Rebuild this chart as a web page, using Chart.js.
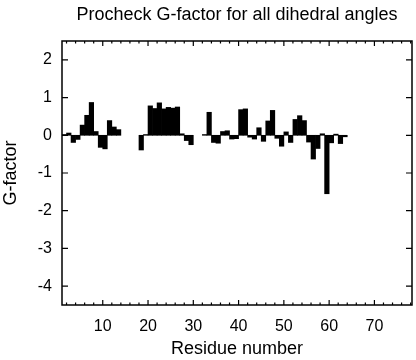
<!DOCTYPE html>
<html><head><meta charset="utf-8">
<script src="https://cdn.jsdelivr.net/npm/chart.js@4"></script>
<style>html,body{margin:0;padding:0;background:#fff}</style>
</head><body>
<canvas id="c" width="416" height="360"></canvas>
<script>
const TITLE = 'Procheck G-factor for all dihedral angles';
const X_TITLE = 'Residue number';
const Y_TITLE = 'G-factor';
const residues = [1,2,3,4,5,6,7,8,9,10,11,12,13,
  18,19,20,21,22,23,24,25,26,27,28,29,
  32,33,34,35,36,37,38,39,40,41,42,43,44,45,46,47,48,49,50,
  51,52,53,54,55,56,57,58,59,60,61,62,63];
const gfactor = [0.02,0.06,-0.19,-0.11,0.27,0.53,0.87,0.10,-0.32,-0.36,0.39,0.22,0.15,
  -0.39,0.02,0.78,0.71,0.86,0.70,0.74,0.72,0.75,0.04,-0.14,-0.25,
  0.02,0.61,-0.19,-0.21,0.10,0.12,-0.10,-0.09,0.68,0.70,-0.05,-0.10,0.20,-0.16,0.38,0.66,-0.08,-0.29,0.09,
  -0.19,0.42,0.52,0.39,-0.18,-0.63,-0.35,0.04,-1.55,-0.20,0.03,-0.22,-0.04];
const xTicks = [10,20,30,40,50,60,70];
const yTicks = [-4,-3,-2,-1,0,1,2];
const X_MIN = 1, X_MAX = 78.3, Y_MIN = -4.5, Y_MAX = 2.5;
const FONT = "'Liberation Sans', Arial, sans-serif";

const bars = residues.map((r, i) => ({x: r + 0.5, y: gfactor[i]}));

const frame = {id: 'frame', afterDraw(chart) {
  const {ctx, chartArea: a, scales: {x, y}} = chart;
  ctx.save();
  ctx.strokeStyle = '#000';
  ctx.lineWidth = 1.5;
  ctx.strokeRect(a.left, a.top, a.right - a.left, a.bottom - a.top);
  ctx.lineWidth = 1.2;
  ctx.beginPath();
  for (let v = Math.ceil(x.min / 2) * 2; v <= x.max; v += 2) {
    const px = x.getPixelForValue(v);
    const L = v % 10 === 0 ? 5 : 2.5;
    ctx.moveTo(px, a.bottom); ctx.lineTo(px, a.bottom - L);
    ctx.moveTo(px, a.top); ctx.lineTo(px, a.top + L);
  }
  yTicks.forEach(v => {
    const py = y.getPixelForValue(v);
    ctx.moveTo(a.left, py); ctx.lineTo(a.left + 6, py);
    ctx.moveTo(a.right, py); ctx.lineTo(a.right - 6, py);
  });
  ctx.stroke();
  ctx.restore();
}};

Chart.defaults.color = '#000';
new Chart(document.getElementById('c'), {
  type: 'bar',
  data: {datasets: [{data: bars, backgroundColor: '#000', borderWidth: 0,
    barPercentage: 1, categoryPercentage: 1}]},
  options: {
    responsive: false, animation: false, devicePixelRatio: 1,
    layout: {padding: {left: 0, right: 4, top: 0, bottom: 0}},
    plugins: {
      legend: {display: false}, tooltip: {enabled: false},
      title: {display: true, fullSize: false, text: TITLE, color: '#000',
        font: {family: FONT, size: 18, weight: 'normal'}, padding: {top: 4, bottom: 15.4}}
    },
    scales: {
      x: {type: 'linear', min: X_MIN, max: X_MAX, offset: false,
        grid: {display: false, drawTicks: false}, border: {display: false},
        ticks: {font: {family: FONT, size: 16}, color: '#000', padding: 12, maxRotation: 0},
        afterBuildTicks: s => { s.ticks = xTicks.map(v => ({value: v})); },
        afterFit: s => { s.height = 55; },
        title: {display: true, text: X_TITLE, color: '#000', font: {family: FONT, size: 18}, padding: {top: 0, bottom: 0}}
      },
      y: {min: Y_MIN, max: Y_MAX,
        grid: {display: false, drawTicks: false}, border: {display: false},
        ticks: {font: {family: FONT, size: 16}, color: '#000', padding: 10},
        afterBuildTicks: s => { s.ticks = yTicks.map(v => ({value: v})); },
        afterFit: s => { s.width = 62; },
        title: {display: true, text: Y_TITLE, color: '#000', font: {family: FONT, size: 18}, padding: {top: 0, bottom: 0}}
      }
    }
  },
  plugins: [frame]
});
</script>
</body></html>
